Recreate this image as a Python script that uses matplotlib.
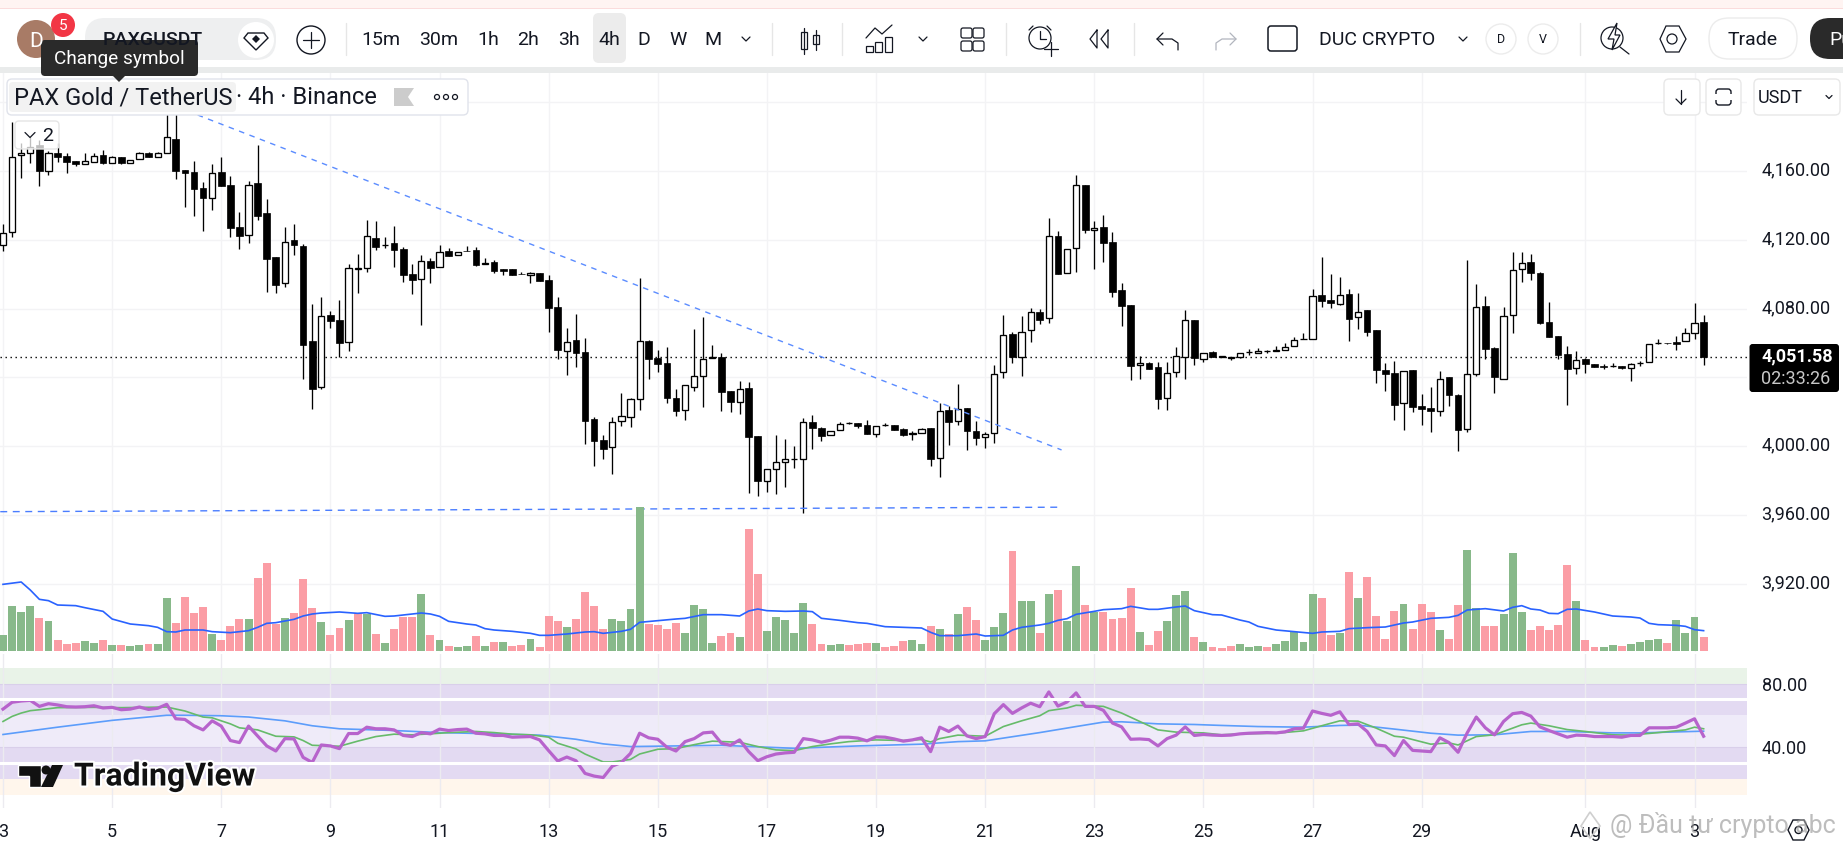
import matplotlib
matplotlib.use("Agg")
from matplotlib import pyplot as plt
from matplotlib.patches import Circle, FancyBboxPatch, Polygon, Rectangle
from matplotlib.transforms import ScaledTranslation
import matplotlib.patheffects as pe
import numpy as np

plt.rcParams['font.family'] = ['Roboto', 'DejaVu Sans']

# candles, 4h bars, bar 0 = day 3 00:00
opens = [4116.8, 4124.4, 4169.1, 4170.3, 4175.1, 4160.2, 4170.3, 4168.7, 4165.6, 4163.9,
         4165.4, 4169.1, 4164.5, 4168.0, 4164.5, 4166.8, 4170.7, 4168.0, 4170.3, 4178.4,
         4160.4, 4159.2, 4149.9, 4144.1, 4159.4, 4151.7, 4127.5, 4122.6, 4152.9, 4135.4,
         4109.8, 4095.1, 4119.7, 4116.4, 4061.2, 4034.2, 4076.1, 4073.4, 4060.4, 4103.0,
         4103.4, 4121.1, 4116.9, 4118.2, 4114.7, 4100.1, 4097.0, 4107.7, 4104.0, 4113.5,
         4111.0, 4113.7, 4113.9, 4105.7, 4106.9, 4102.9, 4102.9, 4100.1, 4099.4, 4100.5,
         4096.6, 4080.8, 4055.2, 4061.6, 4054.6, 4015.6, 4003.4, 3999.4, 4014.5, 4017.2,
         4027.3, 4061.0, 4051.3, 4048.2, 4027.9, 4020.9, 4034.6, 4040.6, 4051.3, 4051.7,
         4031.9, 4025.9, 4033.7, 4005.9, 3980.0, 3986.6, 3990.6, 3992.4, 3992.5, 4013.9,
         4010.4, 4006.3, 4009.2, 4013.4, 4013.3, 4012.2, 4007.3, 4012.1, 4012.2, 4009.8,
         4006.9, 4007.9, 4010.4, 3993.0, 4020.9, 4014.5, 4022.0, 4008.7, 4005.2, 4007.5,
         4043.3, 4065.1, 4052.1, 4067.4, 4077.8, 4074.4, 4122.2, 4100.9, 4115.1, 4151.9,
         4125.5, 4127.5, 4118.6, 4090.6, 4081.9, 4047.0, 4048.4, 4045.9, 4027.9, 4043.0,
         4051.7, 4073.2, 4050.5, 4054.6, 4052.1, 4051.4, 4051.7, 4054.5, 4054.4, 4055.4,
         4055.6, 4055.8, 4058.1, 4062.2, 4062.1, 4087.7, 4084.8, 4082.9, 4088.3, 4074.9,
         4079.0, 4067.4, 4044.1, 4042.4, 4024.9, 4044.1, 4023.2, 4022.0, 4020.3, 4040.1,
         4029.8, 4009.8, 4041.8, 4081.3, 4056.9, 4038.9, 4076.1, 4102.9, 4106.9, 4100.7,
         4072.0, 4063.9, 4053.4, 4045.3, 4050.5, 4048.0, 4046.8, 4046.4, 4046.5, 4045.3,
         4048.1, 4048.8, 4059.7, 4059.8, 4060.4, 4061.0, 4065.6, 4072.0]
highs = [4129.2, 4188.3, 4176.1, 4180.0, 4178.0, 4171.6, 4176.1, 4170.7, 4165.6, 4170.5,
         4170.3, 4172.2, 4168.7, 4168.4, 4166.6, 4171.1, 4171.1, 4171.3, 4200.0, 4200.0,
         4160.4, 4165.8, 4153.4, 4163.9, 4168.0, 4157.1, 4136.2, 4154.2, 4175.1, 4143.7,
         4109.8, 4127.5, 4129.2, 4117.6, 4082.7, 4086.8, 4078.6, 4085.0, 4105.9, 4111.8,
         4131.5, 4130.9, 4121.6, 4128.0, 4115.8, 4105.9, 4111.2, 4109.2, 4116.8, 4115.1,
         4113.1, 4116.4, 4115.8, 4109.2, 4108.3, 4102.9, 4102.9, 4101.1, 4101.1, 4100.5,
         4099.4, 4086.8, 4068.7, 4076.9, 4062.9, 4016.8, 4006.3, 4016.8, 4030.8, 4027.9,
         4097.6, 4061.8, 4056.0, 4057.7, 4033.3, 4035.4, 4068.2, 4075.1, 4058.7, 4054.0,
         4031.9, 4037.9, 4037.2, 4005.9, 3986.6, 4006.5, 4004.2, 4000.1, 4016.2, 4018.2,
         4011.0, 4009.0, 4013.9, 4014.1, 4013.3, 4015.3, 4012.0, 4013.7, 4012.2, 4010.4,
         4009.0, 4010.8, 4010.4, 4025.3, 4023.4, 4036.2, 4022.0, 4014.7, 4008.1, 4047.0,
         4076.3, 4066.2, 4075.7, 4080.2, 4079.6, 4132.7, 4125.1, 4114.9, 4157.7, 4151.9,
         4130.8, 4134.4, 4124.6, 4094.9, 4081.9, 4052.3, 4048.8, 4049.0, 4049.2, 4057.5,
         4079.0, 4073.2, 4054.4, 4055.4, 4052.5, 4051.9, 4054.4, 4056.3, 4056.9, 4056.0,
         4058.3, 4059.8, 4063.3, 4065.6, 4091.2, 4110.2, 4100.1, 4098.4, 4091.2, 4089.1,
         4079.0, 4067.4, 4048.2, 4049.6, 4043.9, 4044.1, 4030.4, 4034.4, 4043.7, 4040.1,
         4030.4, 4108.3, 4094.3, 4087.3, 4057.5, 4081.0, 4112.9, 4112.9, 4111.8, 4101.5,
         4083.9, 4063.9, 4058.1, 4055.4, 4051.5, 4048.0, 4047.6, 4048.4, 4046.5, 4048.2,
         4049.7, 4059.6, 4062.3, 4059.9, 4064.1, 4068.5, 4083.5, 4076.1]
lows = [4113.7, 4121.8, 4156.1, 4164.5, 4151.5, 4157.9, 4165.4, 4159.1, 4162.9, 4163.9,
        4165.0, 4163.9, 4164.5, 4163.9, 4164.5, 4166.8, 4168.0, 4168.0, 4170.3, 4155.6,
        4139.3, 4134.1, 4125.3, 4137.3, 4151.5, 4121.8, 4114.9, 4118.4, 4131.5, 4089.7,
        4089.3, 4092.8, 4111.4, 4039.3, 4021.8, 4033.5, 4068.7, 4051.9, 4055.6, 4089.3,
        4101.3, 4114.1, 4115.3, 4104.4, 4095.7, 4088.7, 4070.7, 4095.1, 4104.0, 4110.8,
        4111.0, 4113.5, 4105.0, 4105.7, 4100.9, 4099.6, 4099.7, 4100.0, 4094.9, 4096.3,
        4066.6, 4050.5, 4041.4, 4046.3, 4001.5, 3988.7, 3992.8, 3984.1, 4012.0, 4011.4,
        4021.0, 4039.1, 4043.3, 4025.3, 4017.8, 4015.3, 4032.3, 4022.8, 4051.3, 4020.5,
        4019.9, 4018.7, 3973.0, 3971.3, 3973.6, 3972.2, 3976.5, 3987.5, 3961.4, 3998.4,
        4003.2, 4006.3, 4009.2, 4013.1, 4010.8, 4007.3, 4005.4, 4011.8, 4009.6, 4006.1,
        4003.8, 4007.5, 3988.5, 3982.1, 4000.7, 4012.3, 3997.8, 4000.7, 3999.2, 4002.0,
        4039.9, 4048.6, 4040.8, 4060.8, 4071.3, 4071.8, 4100.3, 4100.9, 4101.5, 4124.2,
        4103.2, 4107.3, 4087.0, 4069.9, 4038.7, 4039.3, 4045.1, 4021.8, 4021.3, 4040.4,
        4039.3, 4047.2, 4049.2, 4052.1, 4051.9, 4050.3, 4051.5, 4053.0, 4054.4, 4054.4,
        4055.6, 4055.8, 4058.1, 4062.1, 4062.1, 4081.2, 4080.6, 4082.3, 4061.4, 4068.4,
        4064.3, 4036.8, 4032.3, 4015.4, 4009.6, 4020.1, 4012.3, 4008.3, 4017.8, 4023.4,
        3997.4, 4008.5, 4040.8, 4050.9, 4031.1, 4038.9, 4066.0, 4095.7, 4096.6, 4071.3,
        4063.7, 4050.9, 4023.8, 4042.2, 4042.8, 4045.9, 4045.1, 4045.9, 4044.9, 4037.9,
        4046.8, 4048.8, 4059.4, 4059.6, 4056.1, 4061.0, 4062.5, 4047.2]
closes = [4124.2, 4168.4, 4170.3, 4174.2, 4160.2, 4170.3, 4168.4, 4165.4, 4163.9, 4165.6,
          4168.9, 4164.5, 4168.0, 4164.5, 4166.6, 4170.7, 4168.0, 4170.3, 4179.6, 4160.2,
          4159.1, 4149.7, 4144.5, 4159.1, 4151.5, 4127.1, 4122.4, 4152.1, 4134.1, 4109.0,
          4093.9, 4118.9, 4117.2, 4059.1, 4033.5, 4075.5, 4073.0, 4060.2, 4103.4, 4103.4,
          4122.0, 4116.0, 4117.0, 4114.3, 4099.7, 4096.8, 4107.5, 4103.8, 4113.1, 4110.8,
          4113.1, 4113.6, 4105.4, 4106.7, 4101.9, 4101.9, 4099.7, 4100.0, 4100.5, 4096.3,
          4080.6, 4056.1, 4060.8, 4054.4, 4014.9, 4003.2, 3998.6, 4014.3, 4017.4, 4027.3,
          4061.0, 4050.9, 4048.0, 4028.2, 4020.7, 4035.4, 4040.6, 4050.5, 4051.7, 4031.7,
          4025.9, 4033.5, 4005.6, 3980.0, 3986.6, 3990.6, 3992.4, 3992.5, 4013.9, 4010.8,
          4006.1, 4009.0, 4013.1, 4013.6, 4012.0, 4007.3, 4012.0, 4012.2, 4009.6, 4006.7,
          4007.9, 4010.2, 3992.8, 4020.7, 4014.3, 4021.8, 4009.0, 4005.0, 4007.3, 4042.2,
          4064.9, 4052.1, 4066.6, 4077.8, 4073.6, 4122.0, 4100.3, 4114.9, 4151.7, 4125.9,
          4126.7, 4118.4, 4089.9, 4081.7, 4046.8, 4048.2, 4045.1, 4027.7, 4042.8, 4052.7,
          4073.2, 4051.1, 4054.4, 4052.1, 4052.2, 4051.6, 4054.4, 4054.7, 4055.6, 4055.5,
          4055.8, 4057.9, 4062.0, 4062.4, 4087.5, 4084.6, 4083.5, 4088.1, 4074.2, 4078.2,
          4066.6, 4044.5, 4042.2, 4024.2, 4043.9, 4023.0, 4021.8, 4020.3, 4039.3, 4029.6,
          4009.6, 4042.2, 4081.1, 4056.3, 4040.1, 4075.9, 4102.7, 4106.7, 4100.5, 4071.8,
          4063.7, 4053.2, 4045.1, 4050.3, 4048.0, 4045.9, 4045.9, 4046.6, 4045.3, 4048.0,
          4048.3, 4059.6, 4059.9, 4059.7, 4059.4, 4066.0, 4071.8, 4051.58]
last_price = 4051.58

volumes = [48, 135, 117, 135, 99, 90, 33, 21, 24, 30, 24, 33, 18, 18, 15, 18, 21, 21, 159, 84,
           162, 114, 132, 51, 33, 75, 96, 96, 219, 264, 81, 99, 114, 216, 129, 87, 48, 69, 93, 114,
           111, 51, 24, 66, 102, 102, 171, 48, 33, 15, 12, 15, 45, 15, 27, 27, 15, 18, 36, 12,
           105, 90, 72, 96, 177, 135, 66, 96, 90, 126, 432, 81, 78, 66, 84, 54, 138, 126, 24, 45,
           54, 42, 366, 231, 60, 102, 93, 54, 144, 81, 21, 18, 21, 18, 21, 24, 24, 12, 15, 30,
           33, 21, 75, 66, 51, 111, 132, 93, 33, 72, 114, 300, 150, 150, 54, 171, 183, 90, 255, 138,
           117, 117, 96, 99, 189, 57, 18, 60, 90, 168, 180, 42, 27, 12, 9, 15, 21, 12, 15, 12,
           21, 30, 57, 27, 171, 159, 48, 54, 237, 159, 222, 105, 36, 120, 141, 66, 141, 117, 63, 36,
           138, 303, 129, 75, 75, 111, 294, 117, 63, 75, 63, 78, 258, 150, 33, 12, 12, 18, 15, 21,
           27, 33, 36, 24, 93, 54, 102, 42]
vol_dirs = ("GGGGRGRRRGGRGRGGRGGRRRRGRRRGRRRGRRRGRRGRGRGRRRGRGRGGRGRGRRGRRRGRRRRG"
            "GGGRRRRGGGGRRGRRGGGGGRRGGRRRGRRRGGRGRGRRGGGRGGRGRGGRGRRRRGRRGGGRGRRR"
            "GGGRGGGGGRRGRGRRRRGRRRGRRGGRRGGGRRRRRGRRGGRGGGGRGGGR")

vol_ma_idx = [0, 2, 3, 4, 5, 6, 8, 9, 11, 12, 14, 16, 17, 18, 19, 20, 22, 23, 25, 27, 28, 29, 30, 32,
              33, 34, 35, 37, 39, 40, 42, 43, 45, 46, 47, 48, 49, 51, 52, 53, 54, 56, 58, 59, 60, 62,
              64, 65, 66, 68, 69, 70, 72, 74, 75, 77, 79, 81, 82, 83, 84, 86, 88, 89, 90, 92, 94, 95,
              97, 99, 101, 102, 103, 105, 107, 108, 110, 111, 112, 114, 115, 116, 117, 118, 120, 121,
              123, 124, 126, 127, 129, 130, 131, 133, 134, 136, 137, 138, 140, 142, 144, 145, 147, 148,
              150, 152, 154, 155, 157, 159, 160, 161, 163, 165, 166, 167, 168, 169, 170, 171, 172, 173,
              175, 177, 179, 180, 181, 182, 184, 185, 186, 187]
vol_ma = [200, 207, 183, 155, 151, 138, 136, 130, 119, 96, 81, 76, 71, 58, 57, 63, 63, 58, 55, 61, 71, 83, 85, 95,
          105, 111, 114, 117, 113, 115, 104, 105, 111, 114, 111, 104, 89, 81, 78, 67, 63, 59, 53, 47, 47, 51,
          57, 58, 53, 59, 65, 86, 91, 96, 98, 109, 109, 105, 120, 126, 121, 119, 120, 118, 98, 92, 85, 83,
          73, 71, 69, 56, 46, 46, 51, 45, 47, 63, 71, 78, 83, 92, 97, 110, 119, 124,
          127, 134, 125, 125, 132, 135, 121, 109, 108, 93, 87, 74, 63, 58, 53, 57, 59, 67,
          70, 72, 84, 87, 98, 101, 107, 123, 127, 120, 131, 136, 126, 123, 113, 112, 125, 126,
          117, 105, 102, 99, 83, 79, 77, 74, 64, 61]

rsi = [63.9, 68.2, 69.0, 69.4, 65.6, 67.3, 66.5, 65.4, 65.2, 65.4, 66.0, 64.6, 65.0, 63.5, 63.9, 65.2, 63.7, 64.4, 66.9, 57.8,
       57.4, 53.4, 50.8, 56.5, 53.2, 44.1, 42.8, 53.2, 47.0, 40.7, 37.5, 45.3, 45.1, 33.5, 30.3, 41.3, 40.7, 39.0, 48.5, 48.5,
       52.5, 51.5, 51.5, 50.8, 47.3, 46.6, 49.1, 48.3, 51.3, 50.4, 51.0, 51.3, 48.7, 48.3, 47.3, 47.3, 46.2, 46.4, 46.6, 44.5,
       37.7, 31.2, 33.7, 31.4, 23.4, 21.7, 20.8, 28.0, 30.3, 36.0, 48.7, 45.8, 44.9, 39.9, 37.5, 43.4, 45.3, 48.9, 49.4, 42.4,
       41.1, 44.5, 37.1, 31.4, 33.9, 35.6, 36.3, 36.7, 45.3, 44.5, 43.0, 44.3, 46.2, 46.2, 45.6, 43.9, 46.4, 46.2, 45.1, 43.7,
       44.5, 45.8, 37.1, 52.5, 49.8, 53.2, 47.0, 45.3, 46.6, 61.0, 66.7, 61.2, 64.6, 67.6, 65.4, 74.7, 65.8, 68.4, 74.1, 65.6,
       65.6, 63.1, 55.1, 52.7, 44.9, 45.1, 44.7, 40.7, 45.3, 47.5, 52.7, 47.3, 47.9, 47.5, 47.3, 47.5, 48.3, 48.7, 48.9, 49.1,
       48.9, 49.6, 51.5, 51.9, 62.7, 61.2, 60.0, 62.2, 54.2, 54.6, 49.8, 41.3, 40.7, 34.6, 44.1, 37.9, 37.5, 37.1, 45.8, 42.8,
       36.7, 48.9, 58.9, 52.1, 47.7, 56.1, 61.0, 61.8, 59.5, 52.7, 50.4, 48.3, 46.2, 47.5, 47.3, 46.6, 46.6, 46.6, 46.2, 47.3,
       47.3, 52.1, 52.1, 52.1, 52.5, 55.1, 57.8, 46.8]

rsi_ma_idx = [0, 1, 2, 3, 4, 6, 10, 13, 18, 20, 22, 23, 25, 26, 28, 30, 32, 33, 34, 37, 39, 41, 43, 45, 47, 49, 52, 54,
              56, 58, 60, 61, 63, 64, 66, 67, 69, 70, 72, 74, 76, 78, 81, 83, 85, 87, 89, 91, 93, 96, 99, 101, 102,
              103, 105, 108, 110, 112, 114, 115, 117, 118, 121, 123, 125, 127, 129, 132, 134, 136, 140, 143, 145,
              147, 149, 151, 153, 154, 157, 159, 160, 162, 164, 167, 168, 170, 172, 174, 177, 179, 182, 185, 186, 187]
rsi_ma = [56.1, 59.3, 61.4, 62.9, 63.5, 64.8, 65.0, 64.8, 65.2, 62.7, 58.9, 58.4, 54.6, 52.1, 50.8, 46.8, 46.4, 44.1, 41.1, 40.5,
          43.7, 46.6, 48.1, 47.7, 48.3, 49.1, 49.8, 49.1, 48.1, 47.7, 46.2, 42.4, 38.8, 35.6, 30.6, 30.6, 32.2, 35.6, 38.6, 39.0,
          41.5, 43.7, 43.0, 40.3, 38.2, 37.7, 40.3, 42.0, 43.4, 44.5, 44.1, 44.7, 43.2, 45.3, 47.5, 46.8, 52.9, 56.5, 59.7, 62.9,
          64.6, 66.3, 65.6, 61.4, 56.1, 50.8, 49.4, 48.9, 47.7, 48.3, 48.7, 50.2, 53.4, 56.5, 56.3, 51.9, 46.8, 46.2, 41.8, 42.6,
          41.3, 46.6, 47.7, 54.0, 55.1, 53.4, 51.0, 49.8, 47.7, 47.5, 49.1, 50.8, 52.5, 51.5]

rsi_long_idx = [0, 6, 12, 18, 20, 24, 27, 31, 34, 37, 43, 48, 54, 59, 63, 66, 69, 74, 79, 84, 87, 94, 101, 105, 108, 114,
                118, 121, 123, 127, 131, 134, 138, 143, 147, 149, 153, 157, 160, 164, 168, 172, 177, 180, 187]
rsi_long = [47.9, 52.5, 56.8, 60.0, 60.0, 59.7, 58.9, 56.5, 53.4, 51.5, 50.4, 49.1, 48.3, 47.5, 44.9, 42.0, 40.3, 40.7, 41.1,
            39.9, 39.2, 40.7, 41.8, 43.4, 43.9, 49.1, 52.9, 55.7, 55.9, 54.6, 54.2, 53.6, 52.9, 52.5, 53.6, 53.8, 51.3, 48.7,
            47.5, 47.7, 49.8, 49.8, 48.9, 48.9, 50.0]

day_idx = [0, 12, 24, 36, 48, 60, 72, 84, 96, 108, 120, 132, 144, 156, 174, 186]
day_labels = ['3', '5', '7', '9', '11', '13', '15', '17', '19', '21', '23', '25', '27', '29', 'Aug', '3']
price_ticks = [4200, 4160, 4120, 4080, 4040, 4000, 3960, 3920]
price_labels = ['', '4,160.00', '4,120.00', '4,080.00', '', '4,000.00', '3,960.00', '3,920.00']
rsi_ticks = [80, 40]
rsi_labels = ['80.00', '40.00']
trend_x = [21.4, 116.4]
trend_y = [4192.6, 3997.8]
support_x = [-0.3, 116.0]
support_y = [3961.9, 3964.5]

W, H = 1843, 849
GRID = '#f3f3f5'
TXT = '#131722'
fig = plt.figure(figsize=(W / 100, H / 100), dpi=100, facecolor='white')


def pane(x0, y0, x1, y1):
    return fig.add_axes([x0 / W, 1 - y1 / H, (x1 - x0) / W, (y1 - y0) / H])


bars = np.arange(len(closes))
xlim = (-0.33, 191.77)

# price pane
ax = pane(0, 73, 1747, 652)
ax.set_xlim(xlim)
ax.set_ylim(3880.3, 4217)
ax.set_xticks(day_idx)
ax.set_xticklabels([])
ax.set_yticks(price_ticks)
ax.grid(True, color=GRID, lw=1.0)
for s in ax.spines.values():
    s.set_visible(False)

opens_a = np.array(opens)
closes_a = np.array(closes)
up = closes_a >= opens_a
ax.vlines(bars, lows, highs, color='black', lw=0.95, zorder=3)
ax.bar(bars[up], (closes_a - opens_a)[up], bottom=opens_a[up], width=0.68, color='white',
       edgecolor='black', lw=0.95, zorder=4)
ax.bar(bars[~up], (opens_a - closes_a)[~up], bottom=closes_a[~up], width=0.74, color='black',
       edgecolor='black', lw=0.5, zorder=4)
ax.plot(trend_x, trend_y, color='#5b8cff', lw=1.0, dashes=(4, 4), zorder=5)
ax.plot(support_x, support_y, color='#4a7dff', lw=1.0, dashes=(5, 4), zorder=5)
ax.axhline(last_price, color='black', lw=1.0, dashes=(1, 2.6), zorder=2)

# volume pane on top of the same area
ax_vol = ax.twinx()
ax_vol.set_ylim(-3, 1734)
ax_vol.set_yticks([])
ax_vol.patch.set_visible(False)
for s in ax_vol.spines.values():
    s.set_visible(False)
vol_cols = ['#88b98a' if d == 'G' else '#fb9da5' for d in vol_dirs]
ax_vol.bar(bars, volumes, width=0.87, color=vol_cols, zorder=2)
ax_vol.plot(vol_ma_idx, vol_ma, color='#2962ff', lw=1.2, zorder=3)

# twinx moved the price scale to the left, put it back
ax.yaxis.tick_right()
ax.set_yticklabels(price_labels, fontsize=13, color=TXT)
ax.tick_params(length=0, pad=10.5)
# the price labels sit a little above their grid lines
lift = ScaledTranslation(0, 2.5 / 100, fig.dpi_scale_trans)
for tick in ax.yaxis.get_major_ticks():
    tick.label2.set_transform(tick.label2.get_transform() + lift)

# rsi pane
ax_rsi = pane(0, 654, 1747, 808)
ax_rsi.set_xlim(xlim)
ax_rsi.set_ylim(1.6, 98.6)
ax_rsi.axhspan(80, 90, color='#e9f3e8', lw=0)
ax_rsi.axhspan(60, 80, color='#e3daf2', lw=0)
ax_rsi.axhspan(40, 60, color='#efebf9', lw=0)
ax_rsi.axhspan(20, 40, color='#e3daf2', lw=0)
ax_rsi.axhspan(10, 20, color='#fff6ec', lw=0)
ax_rsi.set_xticks(day_idx)
ax_rsi.set_xticklabels(day_labels, fontsize=13, color=TXT)
ax_rsi.yaxis.tick_right()
ax_rsi.set_yticks(rsi_ticks)
ax_rsi.set_yticklabels(rsi_labels, fontsize=13, color=TXT)
ax_rsi.tick_params(length=0, pad=10.5)
ax_rsi.grid(True, axis='x', color='#ecebf0', lw=1.0)
for s in ax_rsi.spines.values():
    s.set_visible(False)
ax_rsi.axhline(80, color='#d9cfea', lw=0.8, zorder=1.2)
ax_rsi.axhline(40, color='#d9cfea', lw=0.8, zorder=1.2)
ax_rsi.plot(rsi_long_idx, rsi_long, color='#5c9dfb', lw=1.2, zorder=3)
ax_rsi.plot(rsi_ma_idx, rsi_ma, color='#66bb6a', lw=1.2, zorder=3)
ax_rsi.plot(bars, rsi, color='#b763cc', lw=2.3, zorder=3)
ax_rsi.axhline(70, color='white', lw=2.2, zorder=4)
ax_rsi.axhline(30, color='white', lw=2.2, zorder=4)

# everything around the chart, in screen pixels
ui = fig.add_axes([0, 0, 1, 1], zorder=10)
ui.set_xlim(0, W)
ui.set_ylim(H, 0)
ui.axis('off')


def box(x0, y0, x1, y1, fc='white', ec='none', r=4, lw=1.0, **kw):
    ui.add_patch(FancyBboxPatch((x0 + r, y0 + r), x1 - x0 - 2 * r, y1 - y0 - 2 * r,
                                boxstyle=f'round,pad={r},rounding_size={r}', fc=fc, ec=ec, lw=lw, **kw))


def line(xs, ys, color=TXT, lw=0.9):
    ui.plot(xs, ys, color=color, lw=lw, solid_capstyle='round')


def label(x, y, s, size=13, color=TXT, ha='center', **kw):
    return ui.text(x, y + 1.5, s, fontsize=size, color=color, ha=ha, va='center', **kw)


def ring(x, y, r, ec=TXT, lw=1.0, fc='white'):
    ui.add_patch(Circle((x, y), r, fc=fc, ec=ec, lw=lw))


def chevron(x, y, s=4, color=TXT):
    line([x - s, x, x + s], [y - s / 2, y + s / 2, y - s / 2], color=color, lw=0.9)


# top strip and toolbar
ui.add_patch(Rectangle((0, 0), W, 8, fc='#fff4f2', ec='none'))
ui.add_patch(Rectangle((0, 8), W, 1.2, fc='#fbdcdc', ec='none'))
ui.add_patch(Rectangle((0, 67), W, 6, fc='#e9ebeb', ec='none'))

ring(36, 39, 19, ec='none', fc='#a87b66')
label(36, 40, 'D', size=15, color='white')
ring(63, 25, 12, ec='none', fc='#f23645')
label(63, 24, '5', size=11, color='white')
box(85, 18, 276, 60, fc='#eeeff0', r=20)
label(103, 38, 'PAXGUSDT', size=14, ha='left', fontweight='medium')
ring(256, 40, 18, ec='none')
ui.add_patch(Polygon([[248, 33], [264, 33], [268, 38], [256, 50], [244, 38]], fc='white', ec=TXT, lw=1.0))
ui.add_patch(Polygon([[256, 35], [260, 39], [256, 43], [252, 39]], fc=TXT, ec='none'))
ring(311, 40, 14)
line([303, 319], [40, 40])
line([311, 311], [32, 48])

for sx in [346, 772, 842, 1006, 1134, 1580]:
    line([sx, sx], [23, 55], color='#e6e6e6', lw=1.0)

box(593, 13, 626, 63, fc='#ececec', r=6)
for tx, s in zip([381, 439, 488, 528, 569, 609, 644, 678, 713],
                 ['15m', '30m', '1h', '2h', '3h', '4h', 'D', 'W', 'M']):
    label(tx, 38, s, size=14)
chevron(746, 39)
chevron(923, 39)
chevron(1463, 39)

# candle icon
line([804, 804], [28, 54])
ui.add_patch(Rectangle((801, 32), 6, 17, fc='white', ec=TXT, lw=0.9))
line([816, 816], [30, 50])
ui.add_patch(Rectangle((813, 35), 6, 9, fc='white', ec=TXT, lw=0.9))
# indicators icon
for bx, bt in zip([866, 875, 885], [46, 42, 37]):
    ui.add_patch(Rectangle((bx, bt), 7, 52 - bt, fc='white', ec=TXT, lw=0.9))
line([866, 875, 882, 892], [38, 28, 34, 25])
# layout grid icon
for gx in [961, 973]:
    for gy in [28, 41]:
        ui.add_patch(FancyBboxPatch((gx + 2, gy + 2), 7, 6, boxstyle='round,pad=2,rounding_size=2',
                                    fc='white', ec=TXT, lw=0.9))
# alarm icon
ring(1040, 38, 11, lw=0.9)
line([1040, 1040, 1046], [31, 39, 39])
line([1044, 1058], [49, 49])
line([1051, 1051], [42, 56])
line([1029, 1033], [30, 26])
line([1051, 1047], [30, 26])
# rewind icon
line([1097, 1090, 1097, 1097], [30, 39, 48, 30])
line([1108, 1101, 1108, 1108], [30, 39, 48, 30])
# undo and redo
line([1163, 1157, 1163], [33, 39, 45])
line([1157, 1172, 1178, 1178], [39, 39, 43, 50])
line([1230, 1236, 1230], [33, 39, 45], color='#b2b5be')
line([1236, 1222, 1216, 1216], [39, 39, 43, 50], color='#b2b5be')
box(1268, 26, 1297, 51, fc='white', ec=TXT, r=3, lw=1.1)
label(1377, 38, 'DUC CRYPTO', size=14)
ring(1501, 39, 15, ec='#ececec')
label(1501, 38, 'D', size=9)
ring(1543, 39, 15, ec='#ececec')
label(1543, 38, 'V', size=9)
# lightning search icon
ring(1612, 38, 11, lw=0.9)
ui.add_patch(Polygon([[1617, 23], [1608, 39], [1614, 39], [1612, 50], [1620, 35], [1615, 35]], fc='white', ec=TXT, lw=0.9))
line([1620, 1629], [47, 54])
# hexagon
ui.add_patch(Polygon([[1660, 39], [1666, 26], [1679, 26], [1686, 39], [1679, 52], [1666, 52]], fc='white', ec=TXT, lw=0.9))
ring(1672, 39, 5, lw=0.9)
box(1709, 18, 1797, 59, fc='white', ec='#ececec', r=20)
label(1753, 38, 'Trade', size=14)
box(1810, 18, 1870, 59, fc='#2a2a2a', r=20)
label(1829, 38, 'Pu', size=14, color='white', ha='left')

# legend
box(7, 79, 468, 115, fc='white', ec='#e0e3eb', r=5)
box(9, 82, 236, 112, fc='#f2f2f2', r=4)
label(14, 96, 'PAX Gold / TetherUS', size=17, ha='left')
label(236, 96, '· 4h · Binance', size=17, ha='left')
ui.add_patch(Polygon([[394, 88], [414, 88], [408, 97], [414, 106], [394, 106]], fc='#cccccc', ec='none'))
for dx in [437, 446, 455]:
    ring(dx, 97, 2.5, lw=0.9)
box(41, 40, 198, 76, fc='#2a2a2a', r=4)
ui.add_patch(Polygon([[113, 76], [125, 76], [119, 82]], fc='#2a2a2a', ec='none'))
label(119.5, 57, 'Change symbol', size=13.7, color='white')
box(15, 121, 59, 149, fc=(1, 1, 1, 0.75), ec='#e5e5e5', r=4)
chevron(30, 135, s=5)
label(48, 134, '2', size=14)

# buttons at the top right of the chart
box(1664, 79, 1700, 115, fc='white', ec='#e8e8e8', r=5)
line([1681, 1681], [90, 104])
line([1676, 1681, 1686], [99, 104, 99])
box(1706, 79, 1741, 115, fc='white', ec='#e8e8e8', r=5)
box(1716, 89, 1731, 105, fc='white', ec=TXT, r=3)
ui.add_patch(Rectangle((1714, 94), 19, 6, fc='white', ec='none'))
box(1754, 79, 1840, 115, fc='white', ec='#e8e8e8', r=5)
label(1758, 96, 'USDT', size=13, ha='left')
chevron(1829, 97, s=3)

# last price tag
box(1749.5, 344, 1839, 392, fc='black', r=3)
label(1761, 355, '4,051.58', size=13, color='white', ha='left', fontweight='bold')
label(1761, 377.5, '02:33:26', size=13, color='#c8c8c8', ha='left')

# tradingview logo
halo = [pe.withStroke(linewidth=3, foreground='white')]
logo = Polygon([[18, 765], [41, 765], [41, 787], [29, 787], [29, 776], [18, 776]], fc='#111111', ec='white', lw=1.0)
ui.add_patch(logo)
ui.add_patch(Circle((46, 770), 4.5, fc='#111111', ec='none'))
ui.add_patch(Polygon([[52, 765], [63, 765], [53, 787], [41, 787]], fc='#111111', ec='none'))
label(74, 775, 'TradingView', size=23, color='#111111', ha='left', fontweight='bold', path_effects=halo)

# watermark and settings icon over the time axis
label(1610, 823, '@ Đầu tư crypto abc', size=18, color='#9a9a9a', ha='left', alpha=0.65)
ui.add_patch(Polygon([[1581, 826], [1590, 812], [1600, 826], [1590, 838]], fc='none', ec='#cfcfcf', lw=1.2))
ui.add_patch(Polygon([[1788, 830], [1793, 820], [1804, 820], [1809, 830], [1804, 840], [1793, 840]], fc='none', ec=TXT, lw=1.0))
ui.add_patch(Circle((1798.5, 830), 3.5, fc='none', ec=TXT, lw=1.0))

fig.savefig('out.png', dpi=100, facecolor='white')
